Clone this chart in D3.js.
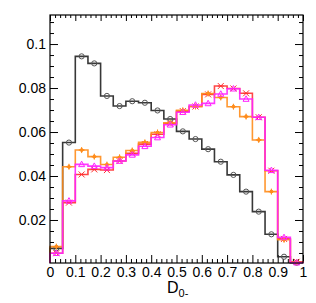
<!DOCTYPE html>
<html>
<head>
<meta charset="utf-8">
<script src="https://cdn.jsdelivr.net/npm/d3@7"></script>
<style>
  body { margin: 0; background: #fff; }
  svg { display: block; font-family: "Liberation Sans", Arial, sans-serif; }
  .axis path { display: none; }
  .axis line { stroke: #000; stroke-width: 1; }
</style>
</head>
<body>
<script>
// bin low edges (width 0.05)
const binLow = [0, 0.05, 0.1, 0.15, 0.2, 0.25, 0.3, 0.35, 0.4, 0.45,
                0.5, 0.55, 0.6, 0.65, 0.7, 0.75, 0.8, 0.85, 0.9, 0.95];
const binWidth = 0.05;

// series values
const blackVals   = [0.0071, 0.0552, 0.0944, 0.0912, 0.0764, 0.0718, 0.0740, 0.0733, 0.0698, 0.0659,
                     0.0603, 0.0568, 0.0522, 0.0465, 0.0405, 0.0329, 0.0238, 0.0135, 0.0033, 0.0006];
const orangeVals  = [0.0079, 0.0442, 0.0518, 0.0488, 0.0452, 0.0485, 0.0516, 0.0553, 0.0598, 0.0642,
                     0.0699, 0.0716, 0.0775, 0.0757, 0.0715, 0.0670, 0.0564, 0.0329, 0.0110, 0.0008];
const redVals     = [0.0049, 0.0279, 0.0407, 0.0430, 0.0427, 0.0468, 0.0503, 0.0545, 0.0590, 0.0638,
                     0.0695, 0.0716, 0.0771, 0.0809, 0.0798, 0.0776, 0.0667, 0.0424, 0.0114, 0.0010];
const magentaVals = [0.0049, 0.0287, 0.0453, 0.0445, 0.0438, 0.0468, 0.0496, 0.0535, 0.0575, 0.0633,
                     0.0690, 0.0723, 0.0730, 0.0773, 0.0797, 0.0750, 0.0667, 0.0426, 0.0121, 0.0006];

// tick labels
const xMajor = [0, 0.1, 0.2, 0.3, 0.4, 0.5, 0.6, 0.7, 0.8, 0.9, 1];
const xLabels = ["0", "0.1", "0.2", "0.3", "0.4", "0.5", "0.6", "0.7", "0.8", "0.9", "1"];
const yMajor = [0.02, 0.04, 0.06, 0.08, 0.1];
const yLabels = ["0.02", "0.04", "0.06", "0.08", "0.1"];

const W = 316, H = 303;
const frameL = 50, frameR = 303, frameT = 15, frameB = 263;

const svg = d3.select("body").append("svg")
  .attr("width", W).attr("height", H);

const x = d3.scaleLinear().domain([0, 1]).range([frameL, frameR]);
const y = d3.scaleLinear().domain([0.00045, 0.1132]).range([frameB, frameT]);

// minor ticks
const xMinor = d3.range(0, 1.0001, 0.02).filter(v => Math.abs(v * 10 - Math.round(v * 10)) > 1e-6);
const yMinor = d3.range(0.005, 0.1131, 0.005).filter(v => Math.abs(v * 50 - Math.round(v * 50)) > 1e-6);

// bottom axis
svg.append("g").attr("class", "axis")
  .attr("transform", `translate(0,${frameB})`)
  .call(d3.axisBottom(x).tickValues(xMinor).tickSize(-4).tickFormat(""));
svg.append("g").attr("class", "axis")
  .attr("transform", `translate(0,${frameB})`)
  .call(d3.axisBottom(x).tickValues(xMajor).tickSize(-8).tickPadding(4)
    .tickFormat((d, i) => xLabels[i]))
  .selectAll("text")
  .attr("font-size", 14).attr("fill", "#000");

// top axis
svg.append("g").attr("class", "axis")
  .attr("transform", `translate(0,${frameT})`)
  .call(d3.axisTop(x).tickValues(xMinor).tickSize(-3).tickFormat(""));
svg.append("g").attr("class", "axis")
  .attr("transform", `translate(0,${frameT})`)
  .call(d3.axisTop(x).tickValues(xMajor).tickSize(-6).tickFormat(""));

// left axis
svg.append("g").attr("class", "axis")
  .attr("transform", `translate(${frameL},0)`)
  .call(d3.axisLeft(y).tickValues(yMinor).tickSize(-4).tickFormat(""));
svg.append("g").attr("class", "axis")
  .attr("transform", `translate(${frameL},0)`)
  .call(d3.axisLeft(y).tickValues(yMajor).tickSize(-8).tickPadding(4)
    .tickFormat((d, i) => yLabels[i]))
  .selectAll("text")
  .attr("font-size", 14).attr("fill", "#000");

// right axis
svg.append("g").attr("class", "axis")
  .attr("transform", `translate(${frameR},0)`)
  .call(d3.axisRight(y).tickValues(yMinor).tickSize(-4).tickFormat(""));
svg.append("g").attr("class", "axis")
  .attr("transform", `translate(${frameR},0)`)
  .call(d3.axisRight(y).tickValues(yMajor).tickSize(-8).tickFormat(""));

// histogram step path
function stepPath(vals) {
  const p = d3.path();
  p.moveTo(x(binLow[0]), y.range()[0]);
  vals.forEach((v, i) => {
    p.lineTo(x(binLow[i]), y(v));
    p.lineTo(x(binLow[i] + binWidth), y(v));
  });
  p.lineTo(x(binLow[binLow.length - 1] + binWidth), y.range()[0]);
  return p.toString();
}

const series = [
  { vals: blackVals, color: "#222222", marker: "circle" },
  { vals: redVals, color: "#ff3333", marker: "x" },
  { vals: orangeVals, color: "#ff8c1a", marker: "plus" },
  { vals: magentaVals, color: "#ff22ff", marker: "triangle" }
];

const plot = svg.append("g");

series.forEach(s => {
  plot.append("path")
    .attr("d", stepPath(s.vals))
    .attr("fill", "none")
    .attr("stroke", s.color)
    .attr("stroke-width", 1.6)
    .attr("opacity", 0.9);

  const g = plot.append("g")
    .attr("fill", "none")
    .attr("stroke", s.color === "#222222" ? "#555" : s.color)
    .attr("stroke-width", 1);

  s.vals.forEach((v, i) => {
    const cx = x(binLow[i] + binWidth / 2), cy = y(v);
    if (s.marker === "circle") {
      g.append("circle").attr("cx", cx).attr("cy", cy).attr("r", 2.6);
    } else if (s.marker === "x") {
      g.append("path").attr("d",
        `M${cx - 3},${cy - 3}L${cx + 3},${cy + 3}M${cx - 3},${cy + 3}L${cx + 3},${cy - 3}M${cx - 3},${cy}L${cx + 3},${cy}`);
    } else if (s.marker === "plus") {
      g.append("path").attr("d",
        `M${cx - 3},${cy}L${cx + 3},${cy}M${cx},${cy - 3}L${cx},${cy + 3}`);
      g.append("path").attr("d",
        `M${cx},${cy - 2}L${cx + 2},${cy}L${cx},${cy + 2}L${cx - 2},${cy}Z`)
        .attr("fill", s.color);
    } else {
      g.append("path").attr("d",
        `M${cx},${cy - 3.2}L${cx + 3},${cy + 2.3}L${cx - 3},${cy + 2.3}Z`);
    }
  });
});

// frame
svg.append("rect")
  .attr("x", frameL).attr("y", frameT)
  .attr("width", frameR - frameL).attr("height", frameB - frameT)
  .attr("fill", "none").attr("stroke", "#000").attr("stroke-width", 1.2);

// axis title D_{0-}
const title = svg.append("text")
  .attr("x", 167).attr("y", 293)
  .attr("font-size", 16).attr("fill", "#000");
title.append("tspan").text("D");
title.append("tspan").attr("font-size", 11).attr("dy", 4).text("0-");
</script>
</body>
</html>
